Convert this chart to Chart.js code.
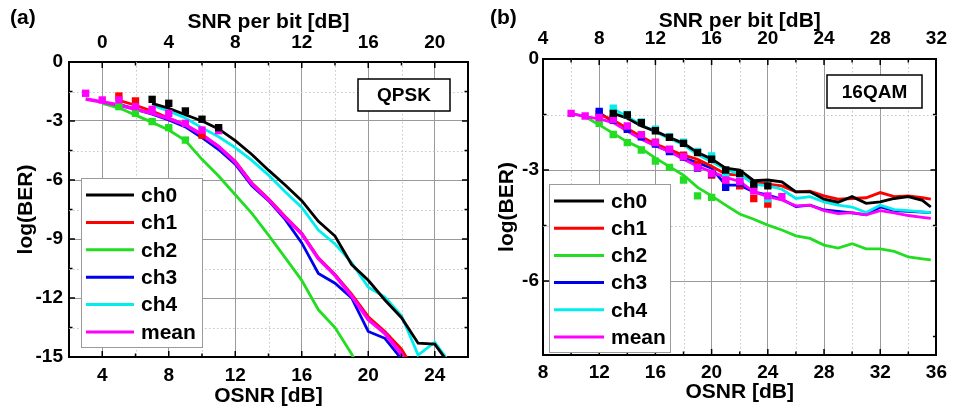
<!DOCTYPE html>
<html>
<head>
<meta charset="utf-8">
<script src="https://cdn.jsdelivr.net/npm/chart.js@4.4.0/dist/chart.umd.min.js"></script>
<style>
  body { margin: 0; background: #fff; }
  #wrap { position: relative; width: 956px; height: 409px; }
  canvas { position: absolute; top: 0; }
  #qpsk { left: 0; }
  #qam { left: 480px; }
</style>
</head>
<body>
<div id="wrap">
  <canvas id="qpsk" width="480" height="409"></canvas>
  <canvas id="qam" width="476" height="409"></canvas>
</div>
<script>
const channelLabels = ['ch0', 'ch1', 'ch2', 'ch3', 'ch4', 'mean'];
const channelColors = ['#000000', '#ff0000', '#22dd22', '#0000ee', '#00eeee', '#ff00ff'];

// (a) QPSK - curves, log(BER) against OSNR
const qpskOsnr = [3, 4, 5, 6, 7, 8, 9, 10, 11, 12, 13, 14, 15, 16, 17, 18, 19, 20, 21, 22, 23, 24, 25];
const qpskCh0 = [null, null, null, null, -2.1, -2.35, -2.68, -3.0, -3.4, -4.0, -4.7, -5.5, -6.25, -7.05, -8.1, -8.85, -10.3, -11.1, -12.1, -13.0, -14.3, -14.35, -15.5];
const qpskCh1 = [null, null, -1.95, -2.2, -2.5, -2.85, -3.2, -3.7, -4.3, -5.05, -6.15, -6.95, -7.85, -8.7, -9.95, -10.8, -11.8, -12.95, -13.7, -14.6, -16.0, null, null];
const qpskCh2 = [null, -2.1, -2.33, -2.7, -3.07, -3.46, -4.0, -4.95, -5.8, -6.75, -7.7, -8.8, -9.95, -11.1, -12.6, -13.5, -14.85, -16.5, null, null, null, null, null];
const qpskCh3 = [null, null, -2.15, -2.4, -2.65, -2.95, -3.3, -3.85, -4.45, -5.2, -6.3, -7.05, -8.0, -9.2, -10.75, -11.25, -12.0, -13.7, -14.05, -15.1, null, null, null];
const qpskCh4 = [null, null, null, null, -2.2, -2.5, -2.85, -3.35, -3.8, -4.35, -5.0, -5.75, -6.6, -7.4, -8.55, -9.25, -10.2, -11.45, -11.95, -12.9, -14.9, -14.25, -15.4];
const qpskMean = [-1.88, -2.03, -2.19, -2.4, -2.61, -2.88, -3.2, -3.7, -4.3, -5.1, -6.2, -7.0, -7.9, -8.75, -10.0, -10.85, -11.9, -13.1, -13.8, -14.85, -16.5, null, null];

// (a) QPSK - measured squares
const qpskDotX0 = [7, 8, 9, 10, 11];
const qpskDotY0 = [-1.9, -2.1, -2.49, -2.91, -3.34];
const qpskDotX1 = [5, 6, 10];
const qpskDotY1 = [-1.73, -1.98, -3.72];
const qpskDotX2 = [5, 6, 7, 8, 9];
const qpskDotY2 = [-2.27, -2.61, -3.03, -3.34, -3.97];
const qpskDotXm = [3, 4, 5, 6, 7, 8, 9, 10, 11];
const qpskDotYm = [-1.59, -1.93, -1.93, -2.27, -2.41, -2.61, -3.12, -3.46, -3.49];

// (b) 16QAM - curves
const qamOsnr = [10, 11, 12, 13, 14, 15, 16, 17, 18, 19, 20, 21, 22, 23, 24, 25, 26, 27, 28, 29, 30, 31, 32, 33, 34, 35, 35.6];
const qamCh0 = [null, null, null, -1.47, -1.6, -1.81, -1.95, -2.12, -2.28, -2.53, -2.7, -2.95, -3.0, -3.29, -3.27, -3.32, -3.59, -3.59, -3.79, -3.87, -3.72, -3.9, -3.86, -3.77, -3.72, -3.82, -4.0];
const qamCh1 = [null, null, -1.5, -1.65, -1.88, -2.1, -2.3, -2.45, -2.6, -2.71, -2.9, -3.11, -3.14, -3.32, -3.38, -3.43, -3.59, -3.57, -3.7, -3.79, -3.77, -3.75, -3.61, -3.72, -3.7, -3.75, -3.79];
const qamCh2 = [-1.47, -1.56, -1.78, -2.01, -2.24, -2.42, -2.68, -2.91, -3.14, -3.47, -3.7, -3.95, -4.19, -4.33, -4.49, -4.62, -4.78, -4.85, -5.03, -5.11, -4.99, -5.13, -5.13, -5.2, -5.35, -5.4, -5.43];
const qamCh3 = [null, null, -1.45, -1.7, -1.92, -2.15, -2.33, -2.5, -2.68, -2.8, -2.95, -3.41, -3.41, -3.59, -3.68, -3.79, -3.99, -3.95, -4.08, -4.12, -4.16, -4.21, -4.0, -4.1, -4.12, -4.14, -4.15];
const qamCh4 = [null, null, null, -1.35, -1.55, -1.78, -1.97, -2.15, -2.32, -2.58, -2.78, -2.98, -3.11, -3.38, -3.43, -3.52, -3.77, -3.72, -3.86, -3.95, -4.0, -4.15, -3.95, -4.07, -4.1, -4.13, -4.15];
const qamMean = [-1.47, -1.56, -1.62, -1.72, -1.95, -2.17, -2.35, -2.5, -2.71, -2.9, -3.05, -3.2, -3.31, -3.59, -3.72, -3.81, -3.97, -3.95, -4.1, -4.18, -4.15, -4.21, -4.1, -4.16, -4.23, -4.28, -4.31];

// (b) 16QAM - measured squares
const qamDotX0 = [13, 14, 15, 16, 17, 18, 19, 20, 21, 22, 23, 24];
const qamDotY0 = [-1.47, -1.51, -1.72, -1.94, -2.12, -2.28, -2.53, -2.71, -3.0, -3.09, -3.38, -3.43];
const qamDotX1 = [12, 13, 14, 15, 16, 17, 18, 19, 20, 21, 22, 23, 24];
const qamDotY1 = [-1.48, -1.6, -1.85, -2.05, -2.25, -2.45, -2.6, -2.85, -3.14, -3.3, -3.43, -3.77, -3.92];
const qamDotX2 = [12, 13, 14, 15, 16, 17, 18, 19, 20];
const qamDotY2 = [-1.74, -2.04, -2.26, -2.46, -2.76, -2.93, -3.27, -3.7, -3.74];
const qamDotX3 = [12, 13, 14, 15, 16, 17, 18, 19, 20, 21, 22];
const qamDotY3 = [-1.42, -1.65, -1.9, -2.1, -2.3, -2.5, -2.65, -2.95, -3.1, -3.47, -3.35];
const qamDotX4 = [13, 14, 15, 16, 17, 18, 19, 20, 21, 22, 23, 24];
const qamDotY4 = [-1.33, -1.5, -1.7, -1.9, -2.1, -2.25, -2.5, -2.62, -3.14, -3.2, -3.5, -3.78];
const qamDotXm = [10, 11, 12, 13, 14, 15, 16, 17, 18, 19, 20, 21, 22, 23, 24, 25];
const qamDotYm = [-1.47, -1.54, -1.58, -1.63, -1.81, -2.05, -2.26, -2.44, -2.64, -2.93, -3.09, -3.27, -3.31, -3.56, -3.7, -3.72];

const FONT = "'Liberation Sans', Arial, sans-serif";
const MAJOR_GRID = '#9a9a9a';
const MINOR_GRID = '#c6c6c6';

Chart.defaults.font.family = FONT;
Chart.defaults.font.weight = 'bold';
Chart.defaults.color = '#000';

function pairs(xs, ys) {
  const out = [];
  xs.forEach((x, i) => {
    if (ys[i] !== null && ys[i] !== undefined) out.push({ x: x, y: ys[i] });
  });
  return out;
}

const isMult = (v, m) => Math.abs(Math.round(v * 100) % Math.round(m * 100)) === 0;

// dotted minor grid, inward ticks, legend, label box, panel letter
const framePlugin = {
  id: 'frame',
  beforeDatasetsDraw(chart, args, opts) {
    const { ctx, chartArea: a } = chart;
    const sx = chart.scales.x, sy = chart.scales.y;
    ctx.save();
    ctx.strokeStyle = MINOR_GRID;
    ctx.lineWidth = 1;
    ctx.setLineDash([1.5, 2.5]);
    sx.ticks.forEach(t => {
      if (isMult(t.value, 4) || t.value === sx.min || t.value === sx.max) return;
      const p = Math.round(sx.getPixelForValue(t.value)) + 0.5;
      ctx.beginPath(); ctx.moveTo(p, a.top); ctx.lineTo(p, a.bottom); ctx.stroke();
    });
    sy.ticks.forEach(t => {
      if (isMult(t.value, 3) || t.value === sy.min || t.value === sy.max) return;
      const p = Math.round(sy.getPixelForValue(t.value)) + 0.5;
      ctx.beginPath(); ctx.moveTo(a.left, p); ctx.lineTo(a.right, p); ctx.stroke();
    });
    ctx.restore();
  },
  afterDatasetsDraw(chart) {
    const { ctx, chartArea: a } = chart;
    ctx.save();
    ctx.strokeStyle = '#000';
    ctx.lineWidth = 1.5;
    const sides = [['x', 4, a.bottom, -1], ['xTop', 4, a.top, 1], ['y', 3, a.left, 1], ['yR', 3, a.right, -1]];
    sides.forEach(([id, m, edge, dir]) => {
      const s = chart.scales[id];
      s.ticks.forEach(t => {
        if (t.value === s.min || t.value === s.max) return;
        const len = isMult(t.value, m) ? 6 : 3.5;
        const p = s.getPixelForValue(t.value);
        ctx.beginPath();
        if (s.isHorizontal()) { ctx.moveTo(p, edge); ctx.lineTo(p, edge + dir * len); }
        else { ctx.moveTo(edge, p); ctx.lineTo(edge + dir * len, p); }
        ctx.stroke();
      });
    });
    ctx.restore();
  },
  afterDraw(chart, args, opts) {
    const ctx = chart.ctx;
    const lg = opts.legend;
    ctx.save();
    ctx.fillStyle = '#fff';
    ctx.fillRect(lg.x, lg.y, lg.w, lg.h);
    ctx.strokeStyle = '#9a9a9a';
    ctx.lineWidth = 1;
    ctx.strokeRect(lg.x + 0.5, lg.y + 0.5, lg.w, lg.h);
    ctx.font = 'bold 21px ' + FONT;
    ctx.textBaseline = 'middle';
    ctx.textAlign = 'left';
    channelLabels.forEach((lab, i) => {
      const yy = lg.row0 + i * lg.rowH;
      ctx.strokeStyle = channelColors[i];
      ctx.lineWidth = 3;
      ctx.beginPath(); ctx.moveTo(lg.x0, yy); ctx.lineTo(lg.x1, yy); ctx.stroke();
      ctx.fillStyle = '#000';
      ctx.fillText(lab, lg.tx, yy + 1);
    });

    const bx = opts.box;
    ctx.fillStyle = '#fff';
    ctx.fillRect(bx.x, bx.y, bx.w, bx.h);
    ctx.strokeStyle = '#000';
    ctx.lineWidth = 1.5;
    ctx.strokeRect(bx.x, bx.y, bx.w, bx.h);
    ctx.fillStyle = '#000';
    ctx.font = 'bold 19px ' + FONT;
    ctx.textAlign = 'center';
    ctx.fillText(bx.text, bx.x + bx.w / 2, bx.y + bx.h / 2 + 1);

    ctx.font = 'bold 21px ' + FONT;
    ctx.textAlign = 'left';
    ctx.fillText(opts.letter, 10, 18);
    ctx.restore();
  }
};

function buildChart(id, p) {
  const lineOrder = [11, 13, 15, 14, 12, 10];
  const dotOrder = [0, 5, 2, 4, 3, 1];
  const datasets = [];
  p.lines.forEach((ys, i) => {
    datasets.push({
      label: channelLabels[i],
      data: pairs(p.osnr, ys),
      borderColor: channelColors[i],
      borderWidth: i === 5 ? p.meanWidth : 2.8,
      pointRadius: 0,
      fill: false,
      tension: 0,
      order: lineOrder[i],
      xAxisID: 'x',
      yAxisID: 'y'
    });
  });
  p.dots.forEach((d, i) => {
    if (!d) return;
    datasets.push({
      label: channelLabels[i] + ' measured',
      data: pairs(d[0], d[1]),
      showLine: false,
      pointStyle: 'rect',
      pointRadius: 5.2,
      pointBackgroundColor: channelColors[i],
      pointBorderWidth: 0,
      borderColor: channelColors[i],
      order: dotOrder[i],
      xAxisID: 'x',
      yAxisID: 'y'
    });
  });

  const tickFont = { size: 19, weight: 'bold' };
  const titleFont = { size: 21, weight: 'bold' };
  const border = { color: '#000', width: 2 };

  new Chart(document.getElementById(id), {
    type: 'line',
    data: { datasets: datasets },
    options: {
      responsive: false,
      animation: false,
      layout: { padding: { left: 0, top: 0, bottom: 0, right: p.rightPad } },
      plugins: {
        legend: { display: false },
        tooltip: { enabled: false },
        frame: { legend: p.legend, box: p.box, letter: p.letter }
      },
      scales: {
        x: {
          type: 'linear', position: 'bottom', min: p.xMin, max: p.xMax,
          afterFit: s => { s.height = p.bottomH; },
          ticks: { stepSize: 2, autoSkip: false, maxRotation: 0, padding: p.bottomPad, font: tickFont,
                   callback: v => isMult(v, 4) ? String(v) : '' },
          grid: { drawTicks: false, color: c => (c.tick && isMult(c.tick.value, 4)) ? MAJOR_GRID : 'rgba(0,0,0,0)' },
          border: border,
          title: { display: true, text: 'OSNR [dB]', font: titleFont, padding: { top: 0, bottom: p.bottomTitlePad } }
        },
        xTop: {
          type: 'linear', position: 'top', min: p.xMin - 4, max: p.xMax - 4,
          afterFit: s => { s.height = p.topH; },
          ticks: { stepSize: 2, autoSkip: false, maxRotation: 0, padding: p.topPad, font: tickFont,
                   callback: v => isMult(v, 4) ? String(v) : '' },
          grid: { drawTicks: false, drawOnChartArea: false },
          border: border,
          title: { display: true, text: 'SNR per bit [dB]', font: titleFont, padding: { top: p.topTitlePad, bottom: 0 } }
        },
        y: {
          type: 'linear', position: 'left', min: p.yMin, max: 0,
          afterFit: s => { s.width = p.leftW; },
          ticks: { stepSize: 1.5, autoSkip: false, padding: p.leftPad, font: tickFont,
                   callback: v => isMult(v, 3) ? String(Math.round(v)) : '' },
          grid: { drawTicks: false, color: c => (c.tick && isMult(c.tick.value, 3)) ? MAJOR_GRID : 'rgba(0,0,0,0)' },
          border: border,
          title: { display: true, text: 'log(BER)', font: titleFont, padding: { top: p.leftTitlePad, bottom: 0 } }
        },
        yR: {
          type: 'linear', position: 'right', min: p.yMin, max: 0,
          afterFit: s => { s.width = 0; },
          ticks: { stepSize: 1.5, display: false },
          grid: { drawTicks: false, drawOnChartArea: false },
          border: border
        }
      }
    },
    plugins: [framePlugin]
  });
}

buildChart('qpsk', {
  osnr: qpskOsnr,
  lines: [qpskCh0, qpskCh1, qpskCh2, qpskCh3, qpskCh4, qpskMean],
  dots: [[qpskDotX0, qpskDotY0], [qpskDotX1, qpskDotY1], [qpskDotX2, qpskDotY2], null, null, [qpskDotXm, qpskDotYm]],
  meanWidth: 3.5,
  xMin: 2, xMax: 26, yMin: -15,
  leftW: 69, topH: 62, bottomH: 52, rightPad: 12,
  bottomPad: 7, topPad: 8, leftPad: 6,
  bottomTitlePad: 0, topTitlePad: 10, leftTitlePad: 14,
  legend: { x: 81, y: 178, w: 121, h: 169, row0: 195, rowH: 27.4, x0: 86, x1: 134, tx: 141 },
  box: { x: 358, y: 79, w: 92, h: 32, text: 'QPSK' },
  letter: '(a)'
});

buildChart('qam', {
  osnr: qamOsnr,
  lines: [qamCh0, qamCh1, qamCh2, qamCh3, qamCh4, qamMean],
  dots: [[qamDotX0, qamDotY0], [qamDotX1, qamDotY1], [qamDotX2, qamDotY2], [qamDotX3, qamDotY3], [qamDotX4, qamDotY4], [qamDotXm, qamDotYm]],
  meanWidth: 2.8,
  xMin: 8, xMax: 36, yMin: -8,
  leftW: 63, topH: 59, bottomH: 54, rightPad: 13,
  bottomPad: 6, topPad: 9, leftPad: 4,
  bottomTitlePad: 4, topTitlePad: 9, leftTitlePad: 15,
  legend: { x: 69, y: 184, w: 121, h: 168, row0: 201, rowH: 27.2, x0: 74, x1: 124, tx: 131 },
  box: { x: 347, y: 75, w: 95, h: 33, text: '16QAM' },
  letter: '(b)'
});
</script>
</body>
</html>
